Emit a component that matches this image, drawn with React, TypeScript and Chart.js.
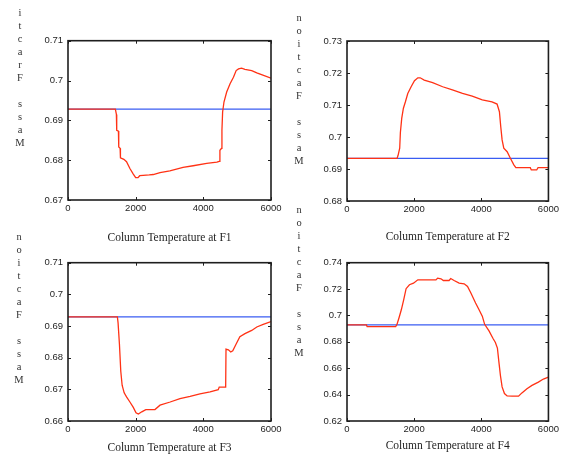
import React, { useEffect, useRef } from "react";
import { Chart, registerables } from "chart.js";
Chart.register(...registerables);

// ---------- data ----------
const xTicks = [0, 2000, 4000, 6000];

const f1YTicks = [0.67, 0.68, 0.69, 0.7, 0.71];
const f1Base = 0.6928;
const f1X = [0, 1400, 1430, 1440, 1490, 1500, 1540, 1550, 1650, 1730, 1830, 1930, 2000, 2070, 2120, 2220, 2400, 2520, 2720, 3010, 3400, 3700, 4100, 4400, 4470, 4490, 4540, 4550, 4570, 4610, 4690, 4790, 4890, 4970, 5040, 5130, 5230, 5430, 5580, 5780, 6000];
const f1Y = [0.6928, 0.6928, 0.6915, 0.6875, 0.6873, 0.6833, 0.683, 0.6806, 0.6802, 0.6796, 0.6779, 0.6765, 0.6756, 0.6756, 0.6761, 0.6762, 0.6763, 0.6764, 0.6769, 0.6773, 0.6782, 0.6786, 0.6792, 0.6795, 0.6797, 0.6825, 0.683, 0.6875, 0.6921, 0.6946, 0.6971, 0.6992, 0.7008, 0.7025, 0.7029, 0.7031, 0.7028, 0.7025, 0.7019, 0.7013, 0.7006];

const f2YTicks = [0.68, 0.69, 0.7, 0.71, 0.72, 0.73];
const f2Base = 0.6933;
const f2X = [0, 1490, 1520, 1570, 1590, 1630, 1680, 1740, 1810, 1910, 2010, 2110, 2180, 2300, 2550, 2850, 3140, 3440, 3730, 4030, 4320, 4470, 4540, 4580, 4620, 4670, 4770, 4870, 4970, 5030, 5460, 5490, 5650, 5690, 6000];
const f2Y = [0.6933, 0.6933, 0.6942, 0.6965, 0.7014, 0.7058, 0.709, 0.711, 0.7136, 0.7157, 0.7176, 0.7185, 0.7185, 0.7178, 0.717, 0.7157, 0.7147, 0.7136, 0.7128, 0.7116, 0.711, 0.7103, 0.7079, 0.7032, 0.6991, 0.6965, 0.6954, 0.6933, 0.6913, 0.6904, 0.6904, 0.6897, 0.6897, 0.6904, 0.6904];

const f3YTicks = [0.66, 0.67, 0.68, 0.69, 0.7, 0.71];
const f3Base = 0.6929;
const f3X = [0, 1460, 1480, 1520, 1560, 1600, 1660, 1730, 1830, 1930, 2010, 2080, 2180, 2300, 2570, 2720, 3020, 3310, 3610, 3900, 4200, 4440, 4470, 4660, 4670, 4740, 4810, 4870, 4970, 5080, 5230, 5430, 5580, 5770, 6000];
const f3Y = [0.6929, 0.6929, 0.691, 0.6843, 0.6757, 0.6713, 0.6689, 0.6676, 0.666, 0.6643, 0.6626, 0.6622, 0.6629, 0.6636, 0.6636, 0.665, 0.666, 0.6671, 0.6678, 0.6686, 0.6692, 0.6699, 0.6707, 0.6707, 0.6827, 0.6825, 0.6818, 0.6822, 0.6843, 0.6866, 0.6876, 0.6886, 0.6897, 0.6905, 0.6914];

const f4YTicks = [0.62, 0.64, 0.66, 0.68, 0.7, 0.72, 0.74];
const f4Base = 0.6928;
const f4X = [0, 580, 600, 1450, 1490, 1550, 1620, 1690, 1760, 1860, 1980, 2110, 2650, 2700, 2800, 2870, 3040, 3090, 3190, 3340, 3490, 3590, 3690, 3830, 3930, 4030, 4100, 4230, 4350, 4420, 4480, 4520, 4570, 4620, 4690, 4770, 4920, 5110, 5210, 5360, 5510, 5700, 5850, 6000];
const f4Y = [0.6928, 0.6928, 0.6915, 0.6915, 0.6933, 0.6983, 0.7045, 0.712, 0.7203, 0.7233, 0.7245, 0.727, 0.727, 0.7283, 0.7278, 0.7265, 0.7265, 0.728, 0.7265, 0.7245, 0.724, 0.722, 0.717, 0.7095, 0.7045, 0.6995, 0.6933, 0.6883, 0.6825, 0.6795, 0.6753, 0.6658, 0.6545, 0.6458, 0.6408, 0.639, 0.6388, 0.6388, 0.6413, 0.6445, 0.647, 0.6495, 0.6518, 0.6533];

const RED = "#ff3215";
const BLUE = "#3a5cf2";
const INK = "#1e1e1e";

const framePlugin = {
  id: "frame",
  afterDatasetsDraw(chart: any) {
    const { ctx, chartArea } = chart;
    const { left, top, right, bottom } = chartArea;
    const xs = chart.scales.x;
    const ys = chart.scales.y;
    ctx.save();
    ctx.strokeStyle = INK;
    ctx.lineWidth = 1;
    ctx.beginPath();
    xs.ticks.forEach((t: any) => {
      const px = Math.round(xs.getPixelForValue(t.value)) + 0.5;
      ctx.moveTo(px, bottom);
      ctx.lineTo(px, bottom - 3);
      ctx.moveTo(px, top);
      ctx.lineTo(px, top + 3);
    });
    ys.ticks.forEach((t: any) => {
      const py = Math.round(ys.getPixelForValue(t.value)) + 0.5;
      ctx.moveTo(left, py);
      ctx.lineTo(left + 3, py);
      ctx.moveTo(right, py);
      ctx.lineTo(right - 3, py);
    });
    ctx.stroke();
    ctx.lineWidth = 1.6;
    ctx.strokeRect(left, top, right - left, bottom - top);
    ctx.restore();
  },
};

type PanelProps = {
  left: number;
  top: number;
  width: number;
  height: number;
  yWidth: number;
  xHeight: number;
  padTop: number;
  padRight: number;
  titlePad: number;
  xs: number[];
  ys: number[];
  base: number;
  yTicks: number[];
  title: string;
};

function Panel(p: PanelProps) {
  const ref = useRef<HTMLCanvasElement | null>(null);
  useEffect(() => {
    if (!ref.current) return;
    const tickFont = { family: "'Liberation Sans', Arial, sans-serif", size: 9.5 };
    const chart = new Chart(ref.current, {
      type: "line",
      data: {
        datasets: [
          {
            data: p.xs.map((x, i) => ({ x, y: p.ys[i] })),
            borderColor: RED,
            borderWidth: 1.3,
            pointRadius: 0,
            tension: 0,
          },
          {
            data: [
              { x: xTicks[0], y: p.base },
              { x: xTicks[xTicks.length - 1], y: p.base },
            ],
            borderColor: BLUE,
            borderWidth: 1.3,
            pointRadius: 0,
            tension: 0,
          },
        ],
      },
      options: {
        animation: false,
        responsive: false,
        maintainAspectRatio: false,
        devicePixelRatio: 1,
        layout: { padding: { left: 0, top: p.padTop, right: p.padRight, bottom: 0 } },
        plugins: { legend: { display: false }, tooltip: { enabled: false } },
        scales: {
          x: {
            type: "linear",
            min: xTicks[0],
            max: xTicks[xTicks.length - 1],
            afterBuildTicks: (s: any) => {
              s.ticks = xTicks.map((v) => ({ value: v }));
            },
            afterFit: (s: any) => {
              s.height = p.xHeight;
            },
            grid: { display: false, drawTicks: false },
            border: { display: false },
            ticks: {
              padding: 3,
              maxRotation: 0,
              autoSkip: false,
              font: tickFont,
              color: INK,
              callback: (v: any) => String(v),
            },
            title: {
              display: true,
              text: p.title,
              font: { family: "'Liberation Serif', 'Times New Roman', serif", size: 11.5 },
              color: INK,
              padding: { top: 0, bottom: p.titlePad },
            },
          },
          y: {
            type: "linear",
            min: p.yTicks[0],
            max: p.yTicks[p.yTicks.length - 1],
            afterBuildTicks: (s: any) => {
              s.ticks = p.yTicks.map((v) => ({ value: v }));
            },
            afterFit: (s: any) => {
              s.width = p.yWidth;
            },
            grid: { display: false, drawTicks: false },
            border: { display: false },
            ticks: {
              padding: 5,
              autoSkip: false,
              font: tickFont,
              color: INK,
              callback: (v: any) => String(+Number(v).toFixed(3)),
            },
          },
        },
      },
      plugins: [framePlugin],
    } as any);
    return () => chart.destroy();
  }, []);
  return (
    <canvas
      ref={ref}
      width={p.width}
      height={p.height}
      style={{ position: "absolute", left: p.left, top: p.top, width: p.width, height: p.height }}
    />
  );
}

function VTitle({ cx, top, text }: { cx: number; top: number; text: string }) {
  return (
    <div
      style={{
        position: "absolute",
        left: cx - 10,
        top,
        width: 20,
        textAlign: "center",
        whiteSpace: "pre",
        fontFamily: "'Liberation Serif', 'Times New Roman', serif",
        fontSize: 10.5,
        lineHeight: "13px",
        color: "#333",
      }}
    >
      {text}
    </div>
  );
}

export default function App() {
  return (
    <div style={{ position: "absolute", left: 0, top: 0, width: 562, height: 456, background: "#fff", overflow: "hidden" }}>
      <Panel left={0} top={30} width={290} height={222} yWidth={68} xHeight={52} padTop={10} padRight={19} titlePad={7}
        xs={f1X} ys={f1Y} base={f1Base} yTicks={f1YTicks} title="Column Temperature at F1" />
      <Panel left={290} top={30} width={272} height={222} yWidth={57} xHeight={51} padTop={11} padRight={12} titlePad={8}
        xs={f2X} ys={f2Y} base={f2Base} yTicks={f2YTicks} title="Column Temperature at F2" />
      <Panel left={0} top={252} width={290} height={204} yWidth={68} xHeight={35} padTop={9} padRight={19} titlePad={1}
        xs={f3X} ys={f3Y} base={f3Base} yTicks={f3YTicks} title="Column Temperature at F3" />
      <Panel left={290} top={252} width={272} height={204} yWidth={57} xHeight={35} padTop={9} padRight={12} titlePad={3}
        xs={f4X} ys={f4Y} base={f4Base} yTicks={f4YTicks} title="Column Temperature at F4" />
      <VTitle cx={20} top={5.5} text={"i\nt\nc\na\nr\nF\n\ns\ns\na\nM"} />
      <VTitle cx={299} top={10.5} text={"n\no\ni\nt\nc\na\nF\n\ns\ns\na\nM"} />
      <VTitle cx={19} top={229.5} text={"n\no\ni\nt\nc\na\nF\n\ns\ns\na\nM"} />
      <VTitle cx={299} top={203} text={"n\no\ni\nt\nc\na\nF\n\ns\ns\na\nM"} />
    </div>
  );
}
